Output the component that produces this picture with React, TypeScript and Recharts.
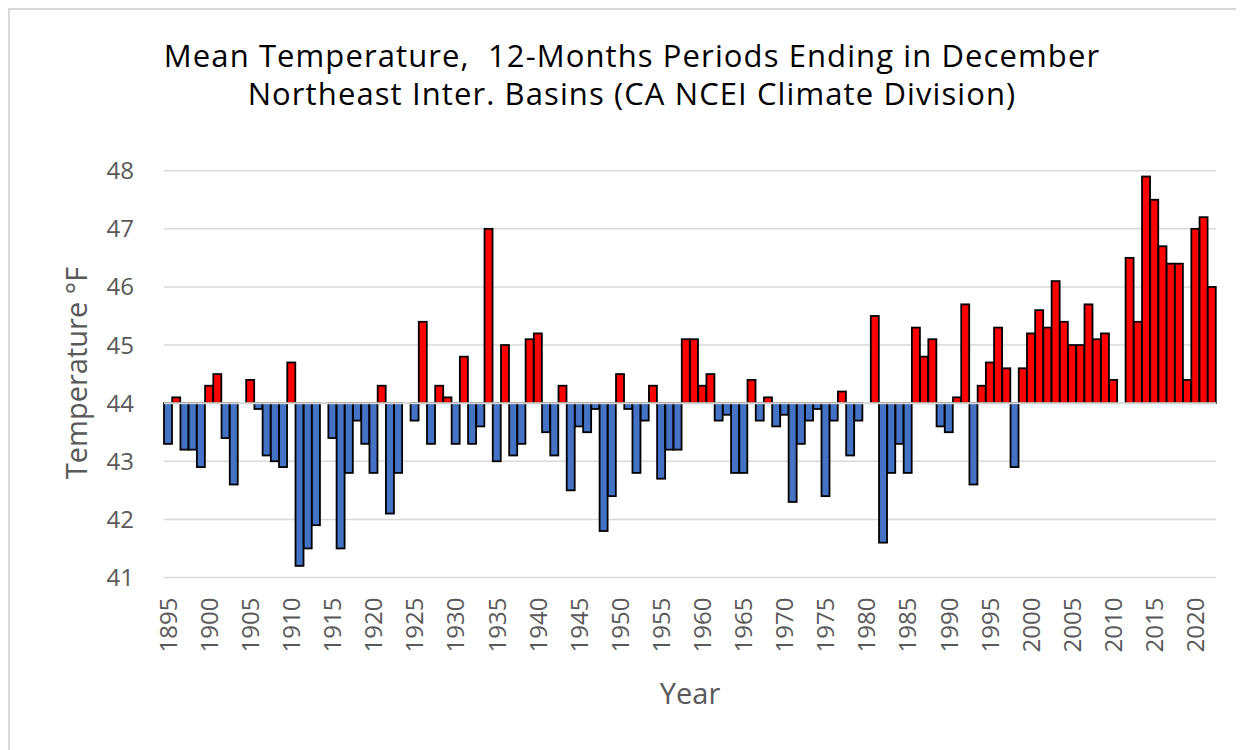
import { BarChart, Bar, XAxis, YAxis, CartesianGrid, ReferenceLine, Cell } from 'recharts';

// Annual mean temperature (°F), 12-month periods ending in December
const START_YEAR = 1895;
const temps = [
  43.3, 44.1, 43.2, 43.2, 42.9, 44.3, 44.5, 43.4, 42.6, 44.0,
  44.4, 43.9, 43.1, 43.0, 42.9, 44.7, 41.2, 41.5, 41.9, 44.0,
  43.4, 41.5, 42.8, 43.7, 43.3, 42.8, 44.3, 42.1, 42.8, 44.0,
  43.7, 45.4, 43.3, 44.3, 44.1, 43.3, 44.8, 43.3, 43.6, 47.0,
  43.0, 45.0, 43.1, 43.3, 45.1, 45.2, 43.5, 43.1, 44.3, 42.5,
  43.6, 43.5, 43.9, 41.8, 42.4, 44.5, 43.9, 42.8, 43.7, 44.3,
  42.7, 43.2, 43.2, 45.1, 45.1, 44.3, 44.5, 43.7, 43.8, 42.8,
  42.8, 44.4, 43.7, 44.1, 43.6, 43.8, 42.3, 43.3, 43.7, 43.9,
  42.4, 43.7, 44.2, 43.1, 43.7, 44.0, 45.5, 41.6, 42.8, 43.3,
  42.8, 45.3, 44.8, 45.1, 43.6, 43.5, 44.1, 45.7, 42.6, 44.3,
  44.7, 45.3, 44.6, 42.9, 44.6, 45.2, 45.6, 45.3, 46.1, 45.4,
  45.0, 45.0, 45.7, 45.1, 45.2, 44.4, 44.0, 46.5, 45.4, 47.9,
  47.5, 46.7, 46.4, 46.4, 44.4, 47.0, 47.2, 46.0,
];
const years = temps.map((_, i) => String(START_YEAR + i));
const BASELINE = 44;
const yTicks = [41, 42, 43, 44, 45, 46, 47, 48];

const data = temps.map((t, i) => ({
  year: years[i],
  temp: t,
  range: [BASELINE, t],
}));

const FONT = '"Open Sans", sans-serif';
const AXIS_GREY = '#595959';

function YearTick(props: any) {
  const { x, y, payload } = props;
  return (
    <text
      transform={`translate(${x},${y}) rotate(-90)`}
      textAnchor="end"
      dy="0.36em"
      fontSize={24}
      fontFamily={FONT}
      fill={AXIS_GREY}
    >
      {payload.value}
    </text>
  );
}

function TempBar(props: any) {
  const { x, y, width, height, fill } = props;
  if (!height || Math.abs(height) < 0.5) return null;
  const top = height < 0 ? y + height : y;
  return (
    <rect
      x={x}
      y={top}
      width={width}
      height={Math.abs(height)}
      fill={fill}
      stroke="#000"
      strokeWidth={1.8}
    />
  );
}

export default function App() {
  return (
    <div
      style={{
        position: 'relative',
        width: 1236,
        height: 742,
        borderTop: '2px solid #d9d9d9',
        borderLeft: '2px solid #d9d9d9',
        boxSizing: 'border-box',
        fontFamily: FONT,
        background: '#fff',
      }}
    >
      <div
        style={{
          position: 'absolute',
          left: 0,
          width: 1244,
          top: 26,
          textAlign: 'center',
          fontSize: 31,
          letterSpacing: 1.1,
          lineHeight: '38px',
          color: '#000',
          whiteSpace: 'pre',
        }}
      >
        {'Mean Temperature,  12-Months Periods Ending in December\nNortheast Inter. Basins (CA NCEI Climate Division)'}
      </div>

      <BarChart
        width={1234}
        height={740}
        data={data}
        margin={{ top: 160.7, right: 28, bottom: 72.5, left: 0 }}
        barCategoryGap={0}
        barGap={0}
      >
        <CartesianGrid vertical={false} stroke="#d9d9d9" strokeWidth={1.5} />
        <XAxis
          dataKey="year"
          interval={4}
          axisLine={false}
          tickLine={false}
          height={100}
          tickSize={0}
          tickMargin={20}
          tick={<YearTick />}
        />
        <YAxis
          domain={[41, 48]}
          ticks={yTicks}
          width={154}
          axisLine={false}
          tickLine={false}
          tickSize={0}
          tickMargin={30}
          tick={{ fontSize: 24, fill: AXIS_GREY, fontFamily: FONT }}
        />
        <Bar dataKey="range" isAnimationActive={false} shape={<TempBar />}>
          {data.map((d) => (
            <Cell key={d.year} fill={d.temp > BASELINE ? '#ff0000' : '#4472c4'} />
          ))}
        </Bar>
        <ReferenceLine y={BASELINE} stroke="#d9d9d9" strokeWidth={2} />
      </BarChart>

      <div
        style={{
          position: 'absolute',
          left: 65,
          top: 363,
          transform: 'translate(-50%, -50%) rotate(-90deg)',
          fontSize: 29,
          color: AXIS_GREY,
          whiteSpace: 'nowrap',
        }}
      >
        Temperature °F
      </div>
      <div
        style={{
          position: 'absolute',
          left: 680,
          top: 682,
          transform: 'translate(-50%, -50%)',
          fontSize: 29,
          color: AXIS_GREY,
          whiteSpace: 'nowrap',
        }}
      >
        Year
      </div>
    </div>
  );
}
